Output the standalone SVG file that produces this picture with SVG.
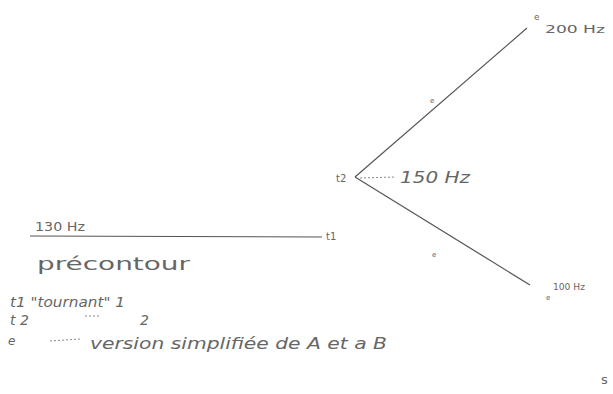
<svg xmlns="http://www.w3.org/2000/svg" width="613" height="394" viewBox="0 0 613 394">
<style>
.ln{stroke:#555;stroke-width:1.2;fill:none}
.dot{stroke:#888;stroke-width:1;stroke-dasharray:2 2;fill:none}
.t{font-family:"DejaVu Sans","Liberation Sans",Arial,sans-serif;fill:#666}
.i{font-style:italic}
</style>
<rect width="613" height="394" fill="#fff"/>
<g id="connectors">
<line class="ln" x1="30" y1="236" x2="322" y2="237"/>
<line class="ln" x1="355" y1="177" x2="527" y2="28"/>
<line class="ln" x1="355" y1="177" x2="530" y2="285"/>
<line class="dot" x1="360" y1="178" x2="396" y2="177"/>
<line class="dot" x1="50" y1="341" x2="80" y2="339"/>
<line class="dot" x1="85" y1="316" x2="100" y2="316"/>
</g>
<g id="node-130">
<text class="t" x="35" y="231" font-size="13" textLength="50" lengthAdjust="spacingAndGlyphs">130 Hz</text>
</g>
<g id="node-t1">
<text class="t" x="326" y="240" font-size="10">t1</text>
</g>
<g id="node-precontour">
<text class="t" x="37" y="270" font-size="18" textLength="153" lengthAdjust="spacingAndGlyphs">précontour</text>
</g>
<g id="node-t2">
<text class="t" x="336" y="182" font-size="10">t2</text>
</g>
<g id="node-150">
<text class="t i" x="400" y="183" font-size="16" textLength="70" lengthAdjust="spacingAndGlyphs">150 Hz</text>
</g>
<g id="node-200">
<text class="t" x="534" y="20" font-size="9">e</text>
<text class="t" x="545" y="33" font-size="11" textLength="60" lengthAdjust="spacingAndGlyphs">200 Hz</text>
</g>
<g id="node-100">
<text class="t" x="553" y="290" font-size="8" textLength="32" lengthAdjust="spacingAndGlyphs">100 Hz</text>
<text class="t" x="546" y="300" font-size="7">e</text>
</g>
<g id="marks">
<text class="t" x="430" y="103" font-size="7">e</text>
<text class="t" x="432" y="257" font-size="7">e</text>
<text class="t" x="601" y="384" font-size="13">s</text>
</g>
<g id="legend">
<text class="t i" x="10" y="307" font-size="14" textLength="115" lengthAdjust="spacingAndGlyphs">t1 "tournant" 1</text>
<text class="t i" x="10" y="325" font-size="14">t 2</text>
<text class="t i" x="140" y="325" font-size="14">2</text>
<text class="t i" x="8" y="345" font-size="12">e</text>
<text class="t i" x="90" y="349" font-size="16" textLength="297" lengthAdjust="spacingAndGlyphs">version simplifiée de A et a B</text>
</g>
</svg>
